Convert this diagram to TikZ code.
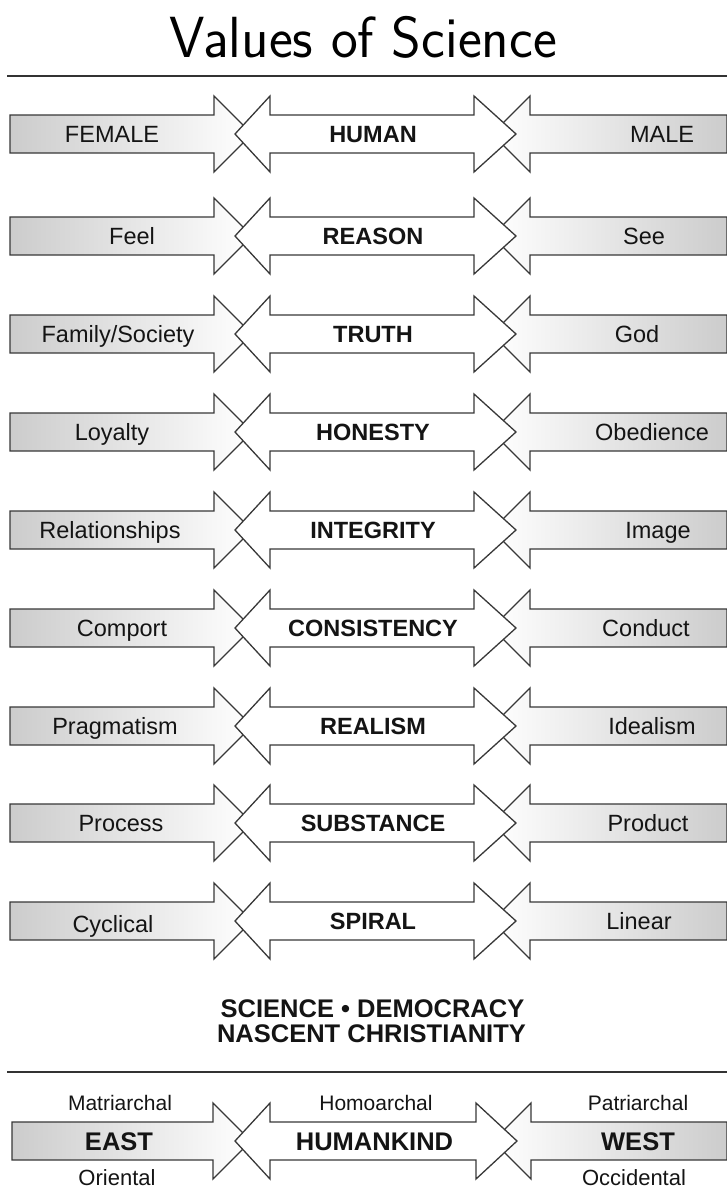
\documentclass[tikz,border=0pt]{standalone}
\usepackage{fontspec}
\usepackage{graphicx}
\setmainfont{Liberation Sans}
\tikzset{
  edge/.style={draw=black!78, line width=1.3pt, line join=miter},
  grayL/.style={edge, left color=black!20, right color=white},
  grayR/.style={edge, left color=white, right color=black!20},
  midarrow/.style={edge, fill=white},
  lab/.style={font=\fontsize{23.5}{26}\selectfont, text=black!92, anchor=base, inner sep=0pt},
  blab/.style={lab, font=\fontsize{23.5}{26}\selectfont\bfseries},
  small/.style={lab, font=\fontsize{21}{24}\selectfont},
  mids/.style={lab, font=\fontsize{22}{24}\selectfont},
  big/.style={lab, font=\fontsize{25.5}{28}\selectfont\bfseries},
  rule/.style={draw=black!80, line width=2pt},
}
% #1 id, #2 centre y, #3 left text, #4 left x, #5 centre text, #6 right text, #7 right x, #8 left dy
\newcommand\myrow[8]{%
  \path[grayL] (10,#2-19) -- (214,#2-19) -- (214,#2-38) -- (252,#2) -- (214,#2+38) -- (214,#2+19) -- (10,#2+19) -- cycle;
  \path[grayR] (727,#2-19) -- (530,#2-19) -- (530,#2-38) -- (492,#2) -- (530,#2+38) -- (530,#2+19) -- (727,#2+19) -- cycle;
  \path[midarrow] (235,#2) -- (270,#2-38) -- (270,#2-19) -- (474,#2-19) -- (474,#2-38) -- (516,#2) -- (474,#2+38) -- (474,#2+19) -- (270,#2+19) -- (270,#2+38) -- cycle;
  \node[lab] (L#1) at (#4,#2+8.5+#8) {#3};
  \node[blab] (C#1) at (373,#2+8.5) {#5};
  \node[lab] (R#1) at (#7,#2+8.5) {#6};
}
\begin{document}
\begin{tikzpicture}[x=1pt,y=-1pt]
  \useasboundingbox (0,0) rectangle (727,1191);
  \node[anchor=base, inner sep=0pt, font=\sffamily\fontsize{58}{58}\selectfont] (title) at (363,57) {\scalebox{0.98}[1]{Values of Science}};
  \draw[rule] (7,76) -- (727,76);

  \myrow{1}{134}{FEMALE}{112}{HUMAN}{MALE}{662}{0}
  \myrow{2}{236}{Feel}{132}{REASON}{See}{644}{0}
  \myrow{3}{334}{Family/Society}{118}{TRUTH}{God}{637}{0}
  \myrow{4}{432}{Loyalty}{112}{HONESTY}{Obedience}{652}{0}
  \myrow{5}{530}{Relationships}{110}{INTEGRITY}{Image}{658}{0}
  \myrow{6}{628}{Comport}{122}{CONSISTENCY}{Conduct}{646}{0}
  \myrow{7}{726}{Pragmatism}{115}{REALISM}{Idealism}{652}{0}
  \myrow{8}{823}{Process}{121}{SUBSTANCE}{Product}{648}{0}
  \myrow{9}{921}{Cyclical}{113}{SPIRAL}{Linear}{639}{3}

  \node[big] (sd) at (372.5,1017) {SCIENCE • DEMOCRACY};
  \node[big] (nc) at (371.5,1042) {NASCENT CHRISTIANITY};

  \draw[rule] (7,1072) -- (727,1072);

  % bottom row
  \path[grayL] (12,1122) -- (213,1122) -- (213,1103) -- (251,1141) -- (213,1179) -- (213,1160) -- (12,1160) -- cycle;
  \path[grayR] (727,1122) -- (531,1122) -- (531,1103) -- (493,1141) -- (531,1179) -- (531,1160) -- (727,1160) -- cycle;
  \path[midarrow] (235,1141) -- (270,1103) -- (270,1122) -- (476,1122) -- (476,1103) -- (517,1141) -- (476,1179) -- (476,1160) -- (270,1160) -- (270,1179) -- cycle;

  \node[small] (matri) at (120,1110) {Matriarchal};
  \node[small] (homo) at (376,1110) {Homoarchal};
  \node[small] (patri) at (638,1110) {Patriarchal};
  \node[big] (east) at (119,1150) {EAST};
  \node[big] (hk) at (374.5,1150) {HUMANKIND};
  \node[big] (west) at (638,1150) {WEST};
  \node[mids] (orient) at (117,1185) {Oriental};
  \node[mids] (occid) at (634,1185) {Occidental};
\end{tikzpicture}
\end{document}
